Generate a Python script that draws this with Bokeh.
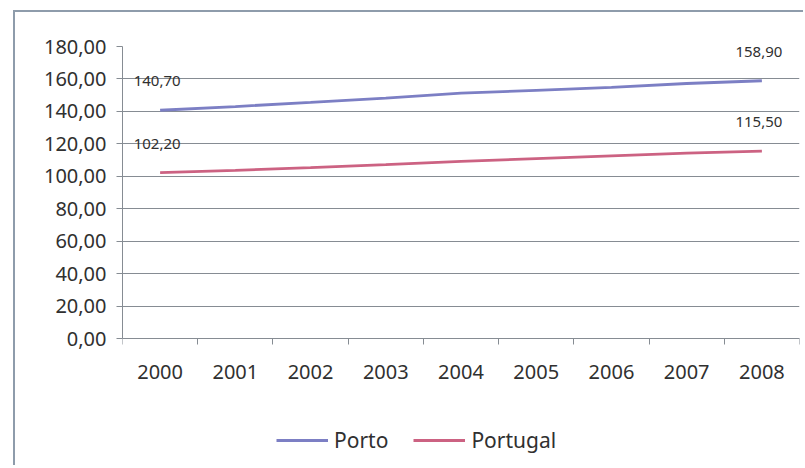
from bokeh.plotting import figure
from bokeh.models import (ColumnDataSource, FixedTicker, Range1d, Legend, LegendItem,
                          LabelSet)
from bokeh.embed import file_html
from bokeh.resources import INLINE
from bokeh.core.properties import value

years = ["2000", "2001", "2002", "2003", "2004", "2005", "2006", "2007", "2008"]
porto = [140.7, 143.0, 145.5, 148.2, 151.2, 153.0, 154.8, 157.2, 158.9]
portugal = [102.2, 103.7, 105.4, 107.2, 109.2, 110.9, 112.6, 114.3, 115.5]
y_ticks = [0, 20, 40, 60, 80, 100, 120, 140, 160, 180]
series_names = ["Porto", "Portugal"]

FONT = "Noto Sans"
TXT = "#303030"
GRID = "#868c93"
C_PORTO = "#7c7fc4"
C_PT = "#cc6282"

xs = [i + 0.5 for i in range(len(years))]

# frame extends below the value axis so the legend can sit inside it
p = figure(width=790, height=455, output_backend="svg", toolbar_location=None,
           x_range=Range1d(0, len(years)), y_range=Range1d(-79.5, 180),
           min_border_left=107, min_border_right=6, min_border_top=34, min_border_bottom=0)
p.outline_line_color = None
p.background_fill_color = "white"
p.border_fill_color = "white"

# x axis at value 0: labels at category centers, ticks at category boundaries
p.xaxis.fixed_location = 0
p.xaxis.ticker = FixedTicker(ticks=xs, minor_ticks=list(range(len(years) + 1)))
p.xaxis.major_label_overrides = {x: y for x, y in zip(xs, years)}
p.xaxis.major_tick_out = 0
p.xaxis.major_tick_in = 0
p.xaxis.minor_tick_out = 6
p.xaxis.minor_tick_in = 0
p.xaxis.minor_tick_line_color = GRID
p.xaxis.axis_line_color = GRID
p.xaxis.major_label_text_font = FONT
p.xaxis.major_label_text_font_size = "20px"
p.xaxis.major_label_text_color = TXT
p.xaxis.major_label_standoff = 20
p.xgrid.grid_line_color = None

# y axis
p.yaxis.ticker = FixedTicker(ticks=y_ticks)
p.yaxis.bounds = (0, 180)
p.yaxis.major_label_overrides = {t: f"{t},00" for t in y_ticks}
p.yaxis.major_tick_out = 6
p.yaxis.major_tick_in = 0
p.yaxis.minor_tick_line_color = None
p.yaxis.major_tick_line_color = GRID
p.yaxis.axis_line_color = GRID
p.yaxis.major_label_text_font = FONT
p.yaxis.major_label_text_font_size = "20px"
p.yaxis.major_label_text_color = TXT
p.yaxis.major_label_standoff = 10
p.ygrid.grid_line_color = GRID
p.ygrid.grid_line_width = 1

src = ColumnDataSource(dict(x=xs, porto=porto, portugal=portugal))
r1 = p.line("x", "porto", source=src, line_color=C_PORTO, line_width=2.8)
r2 = p.line("x", "portugal", source=src, line_color=C_PT, line_width=2.8)

# data labels at first and last points
lab = ColumnDataSource(dict(
    x=[xs[0], xs[-1], xs[0], xs[-1]],
    y=[porto[0], porto[-1], portugal[0], portugal[-1]],
    t=[f"{v:.2f}".replace(".", ",") for v in [porto[0], porto[-1], portugal[0], portugal[-1]]],
))
p.add_layout(LabelSet(x="x", y="y", text="t", source=lab, y_offset=29, x_offset=-3,
                      text_align="center", text_baseline="middle",
                      text_font=value(FONT), text_font_size="15px", text_color=TXT))

legend = Legend(items=[LegendItem(label=series_names[0], renderers=[r1]),
                       LegendItem(label=series_names[1], renderers=[r2])],
                orientation="horizontal", location=(154, 13),
                label_text_font=FONT, label_text_font_size="21px",
                label_text_color=TXT, glyph_width=52, glyph_height=20,
                label_standoff=6, spacing=25, border_line_color=None,
                background_fill_alpha=0, margin=0, padding=4)
p.add_layout(legend, "center")

p.styles = {"border-left": "2px solid #8e9cab", "border-top": "2px solid #8e9cab",
            "margin-left": "13px", "margin-top": "10px"}

open("out.html", "w").write(file_html(p, INLINE))
